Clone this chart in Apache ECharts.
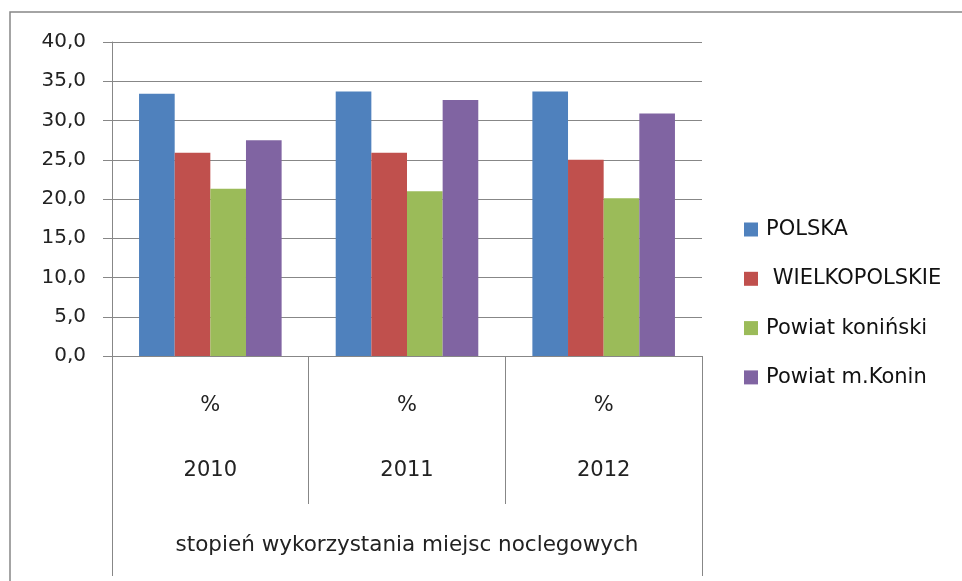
<!DOCTYPE html>
<html>
<head>
<meta charset="utf-8">
<script src="https://cdn.jsdelivr.net/npm/echarts@6/dist/echarts.min.js"></script>
<style>
	html, body { margin: 0; padding: 0; background: #fff; }
	#chartBox { width: 962px; height: 581px; }
</style>
</head>
<body>
<div id="chartBox"></div>
<script>
// dane
const years = ['2010', '2011', '2012'];
const groupLabel = 'stopień wykorzystania miejsc noclegowych';
const seriesNames = ['POLSKA', ' WIELKOPOLSKIE', 'Powiat koniński', 'Powiat m.Konin'];
const polska = [33.4, 33.7, 33.7];
const wielkopolskie = [25.9, 25.9, 25.0];
const powiatKoninski = [21.3, 21.0, 20.1];
const powiatMKonin = [27.5, 32.6, 30.9];
const colors = ['#4F81BD', '#C0504D', '#9BBB59', '#8064A2'];

const lineGray = '#878787';
const fontName = 'DejaVu Sans';

let myChart = echarts.init(document.getElementById('chartBox'));
let values = [polska, wielkopolskie, powiatKoninski, powiatMKonin];

let option = {
	backgroundColor: '#fff',
	color: colors,
	animation: false,
	textStyle: { fontFamily: fontName },
	grid: { left: 112, right: 260, top: 42, bottom: 225 },
	legend: {
		orient: 'vertical',
		left: 739,
		top: 214,
		itemWidth: 14,
		itemHeight: 14,
		itemGap: 28.3,
		icon: 'rect',
		textStyle: { color: '#111', fontSize: 21, lineHeight: 20, fontFamily: fontName, padding: [0, 0, 0, 3] },
		data: seriesNames
	},
	xAxis: [{
		type: 'category',
		data: years,
		position: 'bottom',
		axisLine: { show: true, lineStyle: { color: lineGray, width: 1 } },
		axisTick: { show: true, length: 148, interval: 0, lineStyle: { color: lineGray } },
		axisLabel: {
			interval: 0,
			margin: 33,
			color: '#222',
			fontSize: 21,
			lineHeight: 32.5,
			formatter: function (v) { return '%\n\n' + v; }
		}
	}, {
		type: 'category',
		data: [groupLabel],
		position: 'bottom',
		axisLine: { show: false },
		axisTick: { show: true, length: 220, lineStyle: { color: lineGray } },
		axisLabel: { margin: 177, color: '#222', fontSize: 21.5, lineHeight: 24 }
	}],
	yAxis: {
		type: 'value',
		min: 0,
		max: 40,
		interval: 5,
		axisLine: { show: true, lineStyle: { color: lineGray } },
		axisTick: { show: true, length: 9, lineStyle: { color: lineGray } },
		splitLine: { show: true, lineStyle: { color: lineGray, width: 1 } },
		axisLabel: {
			margin: 26,
			color: '#222',
			fontSize: 20,
			formatter: function (v) { return v.toFixed(1).replace('.', ','); }
		}
	},
	graphic: [{
		type: 'rect',
		shape: { x: 10, y: 12, width: 980, height: 600 },
		style: { fill: 'none', stroke: lineGray, lineWidth: 1.5 },
		silent: true
	}],
	series: seriesNames.map(function (name, i) {
		return {
			name: name,
			type: 'bar',
			xAxisIndex: 0,
			data: values[i],
			barGap: '0%',
			barCategoryGap: '27.5%',
			itemStyle: { color: colors[i] }
		};
	})
};
myChart.setOption(option, true);
</script>
</body>
</html>
